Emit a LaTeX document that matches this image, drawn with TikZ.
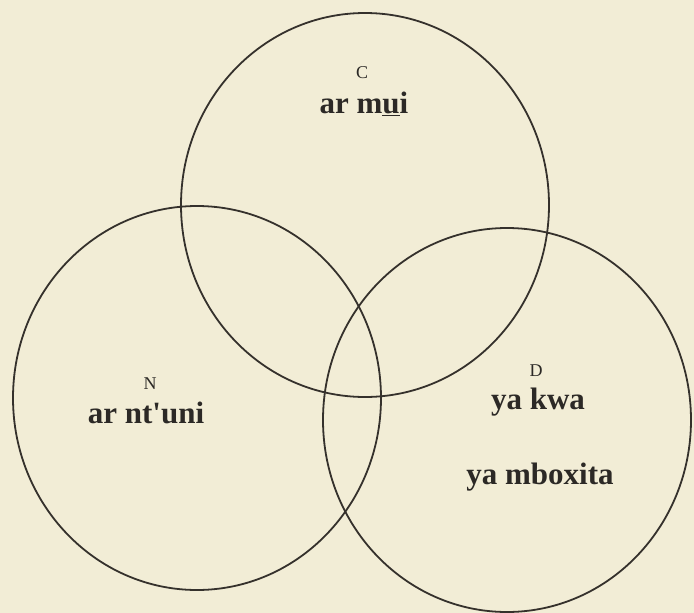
\documentclass[tikz,border=0pt]{standalone}
\usepackage{fontspec}
\setmainfont{Liberation Serif}[Ligatures=TeXOff]
\usetikzlibrary{shapes.geometric}
\definecolor{paper}{HTML}{F2EDD6}
\definecolor{ink}{HTML}{35312C}
\definecolor{txt}{HTML}{2C2926}
\begin{document}
\begin{tikzpicture}[x=1pt,y=-1pt,
  setbox/.style={ellipse, draw=ink, line width=1.8pt, minimum width=368pt, minimum height=384pt, inner sep=0pt},
  letter/.style={text=txt, font=\fontsize{18}{18}\selectfont, inner sep=0pt},
  word/.style={text=txt, font=\fontsize{31}{31}\selectfont\bfseries, inner sep=0pt}]
\fill[paper] (0,0) rectangle (694,613);
\useasboundingbox (0,0) rectangle (694,613);
\node[setbox] (C) at (365,205) {};
\node[setbox] (N) at (197,398) {};
\node[setbox] (D) at (507,420) {};
\node[letter] (cl) at (362,73) {C};
\node[word] (cw) at (364,104) {ar m\underline{u}i};
\node[letter] (nl) at (150,384) {N};
\node[word] (nw) at (146,413) {ar nt'uni};
\node[letter] (dl) at (536,371) {D};
\node[word] (dw1) at (538,402) {ya kwa};
\node[word] (dw2) at (540,477) {ya mboxita};
\end{tikzpicture}
\end{document}
